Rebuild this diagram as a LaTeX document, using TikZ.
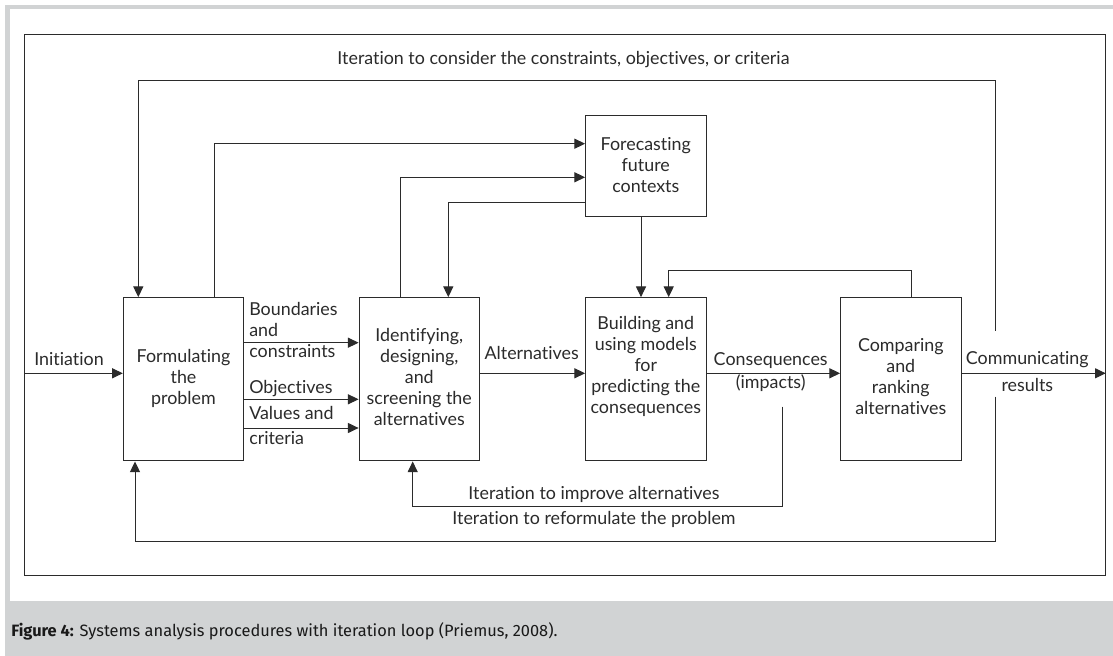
\documentclass[tikz,border=0pt]{standalone}
\usepackage{fontspec}
\setmainfont{Lato}[Ligatures=NoCommon]
\newfontfamily\capfont{Fira Sans}
\usetikzlibrary{arrows.meta,calc}
\definecolor{panelgray}{HTML}{D1D3D4}
\definecolor{ink}{HTML}{2B2B2B}
\begin{document}
\begin{tikzpicture}[x=0.75pt,y=-0.75pt,
  box/.style={draw=ink,line width=0.75pt,minimum width=90.3pt,minimum height=122.5pt,inner sep=0pt},
  txt/.style={font=\fontsize{13.4}{15.75}\selectfont,text=ink,align=center,inner sep=0pt},
  lbl/.style={txt,anchor=west,align=left},
  conn/.style={draw=ink,line width=0.75pt},
  arr/.style={conn,-{Triangle[length=8pt,width=7.5pt]}}]
\useasboundingbox (0,0) rectangle (1113,656);
% panel background
\fill[white] (0,0) rectangle (1113,656);
\fill[panelgray] (5,5) rectangle (1113,656);
\fill[white] (10,9) rectangle (1113,601);
% outer frame
\draw[conn] (24.3,34.7) rectangle (1105.7,575);

% boxes
\node[box] (form) at (183.5,379.3) {};
\node[box] (ident) at (419.3,379.3) {};
\node[box,minimum height=75.75pt] (fore) at (645.8,166.2) {};
\node[box] (build) at (645.8,379.3) {};
\node[box] (comp) at (900.8,379.3) {};

% box texts
\node[txt] (formt) at (183.5,378) {Formulating\\the\\problem};
\node[txt] (identt) at (419.3,376.8) {Identifying,\\designing,\\and\\screening the\\alternatives};
\node[txt] (foret) at (645.8,165.2) {Forecasting\\future\\contexts};
\node[txt] (buildt) at (645.8,366) {Building and\\using models\\for\\predicting the\\consequences};
\node[txt] (compt) at (900.8,377) {Comparing\\and\\ranking\\alternatives};

% labels
\node[txt] (initl) at (69,359.3) {Initiation};
\node[lbl] (bndl) at (249,330) {Boundaries\\and\\constraints};
\node[lbl] (objl) at (249,388.3) {Objectives};
\node[lbl] (vall) at (249,412.7) {Values and};
\node[lbl] (critl) at (249,437.7) {criteria};
\node[txt] (altl) at (531.7,353.3) {Alternatives};
\node[txt] (consl) at (770.7,360.7) {Consequences};
\node[txt] (impl) at (770.7,383.3) {(impacts)};
\node[txt] (comml) at (1027.3,360) {Communicating};
\node[txt] (resl) at (1027.3,385.3) {results};
\node[txt] (topl) at (563.5,60) {Iteration to consider the constraints, objectives, or criteria};
\node[txt] (imprl) at (594,494.3) {Iteration to improve alternatives};
\node[txt] (refol) at (594,519.3) {Iteration to reformulate the problem};

% coordinates
\coordinate (init) at (24.3,373.3);
\coordinate (oute) at (1105.7,373.3);
\coordinate (yb) at (0,342.7);
\coordinate (yo) at (0,399.3);
\coordinate (yv) at (0,428);
\coordinate (ym) at (0,373.3);
\coordinate (tl) at (995,330.7);
\coordinate (t1) at (995,81);
\coordinate (t2) at (138.3,81);
\coordinate (f1) at (214.3,143.7);
\coordinate (f2) at (400,177.3);
\coordinate (f3) at (448.3,202.3);
\coordinate (f4) at (641,0);
\coordinate (c1) at (911.7,270.7);
\coordinate (c2) at (668.7,270.7);
\coordinate (b0) at (995,396.7);
\coordinate (b1) at (995,541.7);
\coordinate (b2) at (135,541.7);
\coordinate (i0) at (782.3,406.7);
\coordinate (i1) at (782.3,506);
\coordinate (i2) at (412.7,506);

% main flow
\draw[arr] (init) -- (init -| form.west);
\draw[arr] (form.east |- yb) -- (ident.west |- yb);
\draw[arr] (form.east |- yo) -- (ident.west |- yo);
\draw[arr] (form.east |- yv) -- (ident.west |- yv);
\draw[arr] (ident.east |- ym) -- (build.west |- ym);
\draw[arr] (build.east |- ym) -- (comp.west |- ym);
\draw[arr] (comp.east |- ym) -- (oute);

% forecasting links
\draw[arr] (f1 |- form.north) -- (f1) -- (f1 -| fore.west);
\draw[arr] (f2 |- ident.north) -- (f2) -- (f2 -| fore.west);
\draw[arr] (f3 -| fore.west) -- (f3) -- (f3 |- ident.north);
\draw[arr] (f4 |- fore.south) -- (f4 |- build.north);
\draw[arr] (c1 |- comp.north) -- (c1) -- (c2) -- (c2 |- build.north);

% iteration loops
\draw[arr] (tl) -- (t1) -- (t2) -- (t2 |- form.north);
\draw[arr] (b0) -- (b1) -- (b2) -- (b2 |- form.south);
\draw[arr] (i0) -- (i1) -- (i2) -- (i2 |- ident.south);

% caption
\node[anchor=west,inner sep=0pt,text=black!90,font=\capfont\fontsize{12.3}{14}\selectfont] (cap) at (11,631.7) {\textbf{Figure 4:} Systems analysis procedures with iteration loop (Priemus, 2008).};
\end{tikzpicture}
\end{document}
